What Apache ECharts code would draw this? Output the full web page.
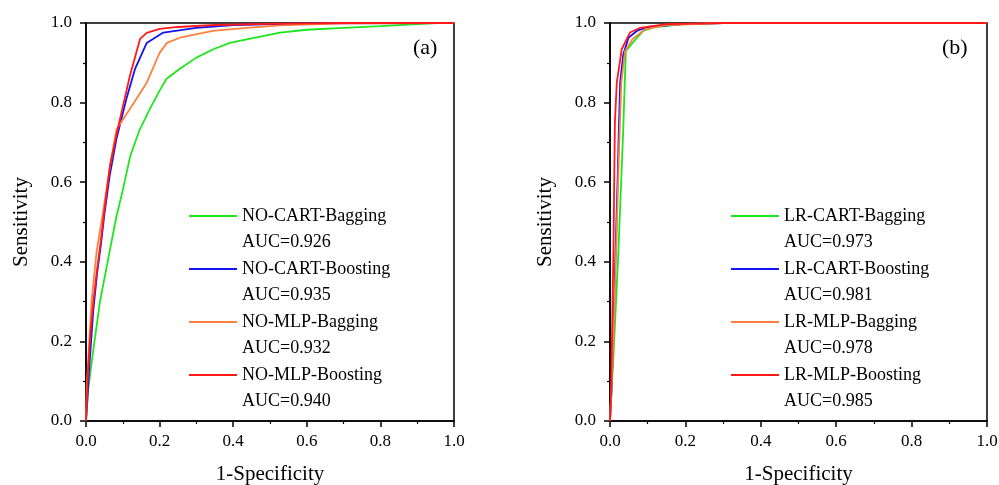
<!DOCTYPE html>
<html>
<head>
<meta charset="utf-8">
<script src="https://cdn.jsdelivr.net/npm/echarts@6/dist/echarts.min.js"></script>
<style>
  html, body { margin: 0; padding: 0; background: #fff; }
  #chart { width: 999px; height: 485px; }
</style>
</head>
<body>
<div id="chart"></div>
<script>
// ROC points: [1-specificity, sensitivity]
const noCartBagging = [[0,0],[0.006,0.08],[0.02,0.18],[0.038,0.30],[0.065,0.43],[0.083,0.515],[0.1,0.58],[0.12,0.665],[0.145,0.73],[0.174,0.785],[0.2,0.83],[0.219,0.86],[0.255,0.885],[0.3,0.913],[0.346,0.934],[0.391,0.95],[0.437,0.959],[0.527,0.976],[0.6,0.983],[0.7,0.988],[0.8,0.992],[0.9,0.997],[0.95,1],[1,1]]
const noCartBoosting = [[0,0],[0.01,0.15],[0.02,0.28],[0.03,0.37],[0.04,0.44],[0.05,0.52],[0.065,0.62],[0.083,0.71],[0.11,0.81],[0.133,0.884],[0.165,0.95],[0.21,0.976],[0.3,0.988],[0.4,0.995],[0.6,0.999],[1,1]]
const noMlpBagging = [[0,0],[0.002,0.085],[0.015,0.30],[0.029,0.427],[0.046,0.523],[0.065,0.64],[0.083,0.733],[0.12,0.785],[0.165,0.85],[0.2,0.925],[0.22,0.95],[0.255,0.963],[0.345,0.98],[0.437,0.988],[0.527,0.994],[0.7,0.999],[1,1]]
const noMlpBoosting = [[0,0],[0.005,0.12],[0.012,0.22],[0.02,0.30],[0.03,0.38],[0.04,0.45],[0.05,0.53],[0.065,0.64],[0.083,0.72],[0.1,0.79],[0.12,0.87],[0.147,0.96],[0.165,0.975],[0.2,0.985],[0.25,0.99],[0.35,0.995],[0.5,0.998],[0.7,1],[1,1]]

const lrCartBagging = [[0,0],[0.005,0.09],[0.01,0.18],[0.022,0.42],[0.035,0.73],[0.042,0.93],[0.06,0.95],[0.088,0.98],[0.12,0.99],[0.2,0.998],[0.3,1],[1,1]]
const lrCartBoosting = [[0,0],[0.004,0.08],[0.008,0.2],[0.014,0.4],[0.02,0.6],[0.024,0.75],[0.027,0.85],[0.035,0.92],[0.049,0.963],[0.071,0.98],[0.1,0.99],[0.2,0.998],[0.3,1],[1,1]]
const lrMlpBagging = [[0,0],[0.004,0.08],[0.009,0.2],[0.016,0.42],[0.024,0.68],[0.03,0.85],[0.04,0.93],[0.06,0.96],[0.093,0.984],[0.15,0.995],[0.3,1],[1,1]]
const lrMlpBoosting = [[0,0],[0.003,0.08],[0.006,0.25],[0.009,0.42],[0.013,0.75],[0.018,0.85],[0.031,0.934],[0.053,0.976],[0.08,0.988],[0.15,0.997],[0.3,1],[1,1]]

const namesA = ['NO-CART-Bagging', 'NO-CART-Boosting', 'NO-MLP-Bagging', 'NO-MLP-Boosting']
const namesB = ['LR-CART-Bagging', 'LR-CART-Boosting', 'LR-MLP-Bagging', 'LR-MLP-Boosting']
const aucA = ['0.926', '0.935', '0.932', '0.940']
const aucB = ['0.973', '0.981', '0.978', '0.985']
const colors = ['#1EE61E', '#1414F0', '#FF8040', '#FF1A1A']
const ticks = [0, 0.2, 0.4, 0.6, 0.8, 1.0]

const FONT = '"Liberation Serif", "Times New Roman", serif'
const LH = 26.5 // legend line height

const aucMap = {}
namesA.forEach((n, i) => { aucMap[n] = aucA[i] })
namesB.forEach((n, i) => { aucMap[n] = aucB[i] })

function axis(type, idx, name) {
  const isX = type === 'x'
  return {
    type: 'value',
    gridIndex: idx,
    min: 0,
    max: 1,
    interval: 0.2,
    name: name,
    nameLocation: 'middle',
    nameGap: isX ? 43 : 54,
    nameTextStyle: { fontFamily: FONT, fontSize: 21, color: '#000' },
    axisLine: { show: true, onZero: false, lineStyle: { color: '#000', width: 1.5 } },
    axisTick: { show: true, length: 6, lineStyle: { color: '#000', width: 1.5 } },
    minorTick: { show: true, splitNumber: 2, length: 3, lineStyle: { color: '#000', width: 1.2 } },
    splitLine: { show: false },
    axisLabel: {
      fontFamily: FONT, fontSize: 17, color: '#000',
      margin: isX ? 12 : 14,
      formatter: v => ticks.includes(+v.toFixed(1)) ? v.toFixed(1) : ''
    }
  }
}

// blank first line so the icon sits on the name line, AUC underneath
function legend(names, left) {
  return {
    data: names,
    orient: 'vertical',
    left: left,
    top: 216 - 1.5 * LH,
    icon: 'rect',
    itemWidth: 48,
    itemHeight: 2,
    itemGap: -LH,
    itemStyle: { borderWidth: 0 },
    padding: 0,
    textStyle: { fontFamily: FONT, fontSize: 18, color: '#000', lineHeight: LH },
    formatter: n => '\u00a0\n' + n + '\nAUC=' + aucMap[n],
    selectedMode: false
  }
}

const seriesA = [noCartBagging, noCartBoosting, noMlpBagging, noMlpBoosting]
const seriesB = [lrCartBagging, lrCartBoosting, lrMlpBagging, lrMlpBoosting]

function lines(data, names, idx) {
  return data.map((d, i) => ({
    name: names[i],
    type: 'line',
    xAxisIndex: idx,
    yAxisIndex: idx,
    data: d,
    showSymbol: false,
    color: colors[i],
    lineStyle: { width: 1.8, color: colors[i] },
    z: 2 + i
  }))
}

const titleStyle = { fontFamily: FONT, fontSize: 22, fontWeight: 'normal', color: '#000' }

const chart = echarts.init(document.getElementById('chart'))
chart.setOption({
  backgroundColor: '#fff',
  animation: false,
  title: [
    { text: '(a)', left: 413, top: 37, padding: 0, textStyle: titleStyle },
    { text: '(b)', left: 942, top: 37, padding: 0, textStyle: titleStyle }
  ],
  grid: [
    { left: 86, top: 23, width: 368, height: 398, show: true, borderColor: '#000', borderWidth: 1.5, outerBoundsMode: 'none' },
    { left: 610, top: 23, width: 377, height: 398, show: true, borderColor: '#000', borderWidth: 1.5, outerBoundsMode: 'none' }
  ],
  xAxis: [axis('x', 0, '1-Specificity'), axis('x', 1, '1-Specificity')],
  yAxis: [axis('y', 0, 'Sensitivity'), axis('y', 1, 'Sensitivity')],
  legend: [legend(namesA, 189), legend(namesB, 731)],
  series: [...lines(seriesA, namesA, 0), ...lines(seriesB, namesB, 1)]
})
</script>
</body>
</html>
